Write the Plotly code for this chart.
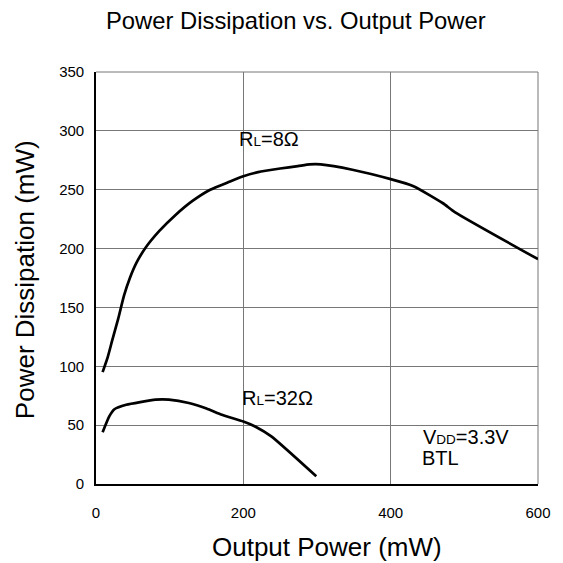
import plotly.graph_objects as go

# Output power (mW) and package power dissipation (mW), VDD = 3.3 V, BTL
out_8ohm = [9, 16, 22, 30, 38, 46, 55, 67, 86, 108, 131, 155, 180, 200, 220,
            250, 274, 290, 305, 348, 400, 431, 471, 487, 600]
diss_8ohm = [95, 108, 122, 140, 160, 175, 188, 200.5, 215, 228.6, 240.5, 250,
             256.5, 261.5, 265, 268, 270, 271.5, 271.5, 267, 259, 253, 238.5,
             231, 191]

out_32ohm = [9, 18, 25, 41, 60, 81, 99, 126, 150, 171, 200, 216, 238, 299]
diss_32ohm = [44, 57.4, 63.5, 67.3, 69.6, 71.6, 71.6, 68.8, 64.2, 58.8, 53.1,
              48.9, 40.4, 6.5]

x_ticks = [0, 200, 400, 600]
y_ticks = [0, 50, 100, 150, 200, 250, 300, 350]

FONT = "Liberation Sans, Arial, Helvetica, sans-serif"
GRID = "#777777"

# plot box in pixels (563 x 563 canvas)
W = H = 563
L, R, T, B = 96, 542, 72, 484


def fx(px):
    return (px - L) / (R - L)


def fy(py):
    return (B - py) / (B - T)


fig = go.Figure()
for xs, ys in ((out_8ohm, diss_8ohm), (out_32ohm, diss_32ohm)):
    fig.add_trace(go.Scatter(x=xs, y=ys, mode="lines",
                             line=dict(color="black", width=2.7,
                                       shape="spline", smoothing=0.5),
                             hoverinfo="skip", showlegend=False))

shapes = []
# white label backgrounds that interrupt the grid
for x0, x1, y0, y1 in ((237, 348, 130, 158), (237, 330, 385, 420),
                       (423, 536, 420, 484)):
    shapes.append(dict(type="rect", xref="paper", yref="paper",
                       x0=fx(x0), x1=fx(x1), y0=fy(y1), y1=fy(y0),
                       fillcolor="white", line=dict(width=0), layer="between"))
# grey frame on top and right
shapes.append(dict(type="line", xref="paper", yref="paper", x0=0, x1=1, y0=1, y1=1,
                   line=dict(color=GRID, width=1), layer="between"))
shapes.append(dict(type="line", xref="paper", yref="paper", x0=1, x1=1, y0=0, y1=1,
                   line=dict(color=GRID, width=1), layer="between"))

small = "<span style='font-size:13.5px'>{}</span>"


def label(text, px, py, size=20, **kw):
    return dict(text=text, xref="paper", yref="paper", x=fx(px), y=fy(py),
                xanchor=kw.pop("xanchor", "left"), yanchor="middle",
                showarrow=False, borderpad=0,
                font=dict(family=FONT, size=size, color="black"), **kw)


annotations = [
    label("Power Dissipation vs. Output Power", 297.5, 21, size=23.8, xanchor="center"),
    label("Output Power (mW)", 329, 546.5, size=26, xanchor="center"),
    label("Power Dissipation (mW)", 24.5, 280, size=26, xanchor="center",
          textangle=-90),
    label("R" + small.format("L") + "=8Ω", 239, 139),
    label("R" + small.format("L") + "=32Ω", 242.7, 398),
    label("V" + small.format("DD") + "=3.3V", 424.7, 437),
    label("BTL", 423.5, 458),
]

axis_common = dict(showgrid=True, gridcolor=GRID, gridwidth=1, zeroline=False,
                   showline=True, linecolor="black", linewidth=1.6, ticks="",
                   tickfont=dict(family=FONT, size=15, color="black"),
                   fixedrange=True)

fig.update_layout(
    width=W, height=H,
    margin=dict(l=L, r=W - R, t=T, b=H - B, pad=0),
    paper_bgcolor="white", plot_bgcolor="white",
    xaxis=dict(range=[0, 600], tickvals=x_ticks, ticklabelstandoff=14, **axis_common),
    yaxis=dict(range=[0, 350], tickvals=y_ticks, ticklabelstandoff=7, **axis_common),
    shapes=shapes, annotations=annotations,
)

fig.write_html("out.html", config=dict(displayModeBar=False))
